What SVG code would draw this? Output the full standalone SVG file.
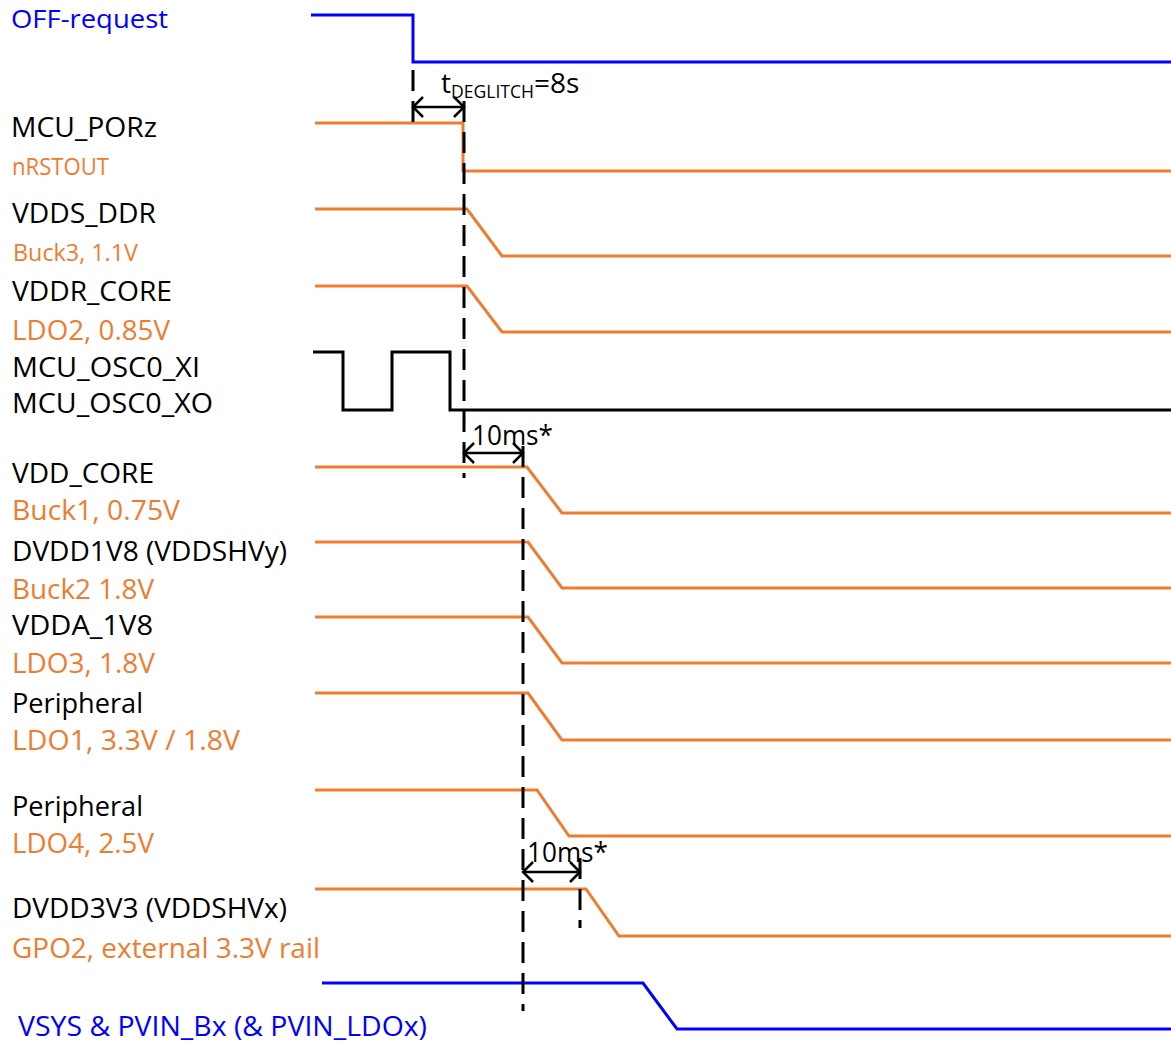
<svg xmlns="http://www.w3.org/2000/svg" width="1171" height="1044" viewBox="0 0 1171 1044">
<style>
text{font-family:"Open Sans","Noto Sans","DejaVu Sans",sans-serif;font-size:28px;fill:#000}
.o{fill:#ED7D31}
.b{fill:#0000FF}
.s{font-size:23px}
.wo{fill:none;stroke:#ED7D31;stroke-width:3;stroke-linejoin:miter}
.wb{fill:none;stroke:#0000FF;stroke-width:3}
.wk{fill:none;stroke:#000;stroke-width:3}
.dash{fill:none;stroke:#000;stroke-width:3;stroke-dasharray:21 10}
.arr{fill:none;stroke:#000;stroke-width:2.5;marker-start:url(#ah);marker-end:url(#ah)}
.t{font-size:28px}
</style>
<defs>
<marker id="ah" viewBox="-12 -12 14 24" refX="0" refY="0" markerWidth="14" markerHeight="24" orient="auto-start-reverse" markerUnits="userSpaceOnUse">
<path d="M-10,-10 L0,0 L-10,10" fill="none" stroke="#000" stroke-width="2.5"/>
</marker>
</defs>
<rect width="1171" height="1044" fill="#fff"/>

<g id="labels">
<text id="lbl-off" class="b" x="11" y="28" font-size="26" textLength="157" lengthAdjust="spacingAndGlyphs" style="font-size:26px">OFF-request</text>
<text id="lbl-porz" x="11" y="137" textLength="146" lengthAdjust="spacingAndGlyphs">MCU_PORz</text>
<text id="lbl-nrst" class="o s" x="12" y="175" textLength="97" lengthAdjust="spacingAndGlyphs">nRSTOUT</text>
<text id="lbl-vdds" x="12" y="223" textLength="144" lengthAdjust="spacingAndGlyphs">VDDS_DDR</text>
<text id="lbl-buck3" class="o s" x="13" y="261" textLength="125" lengthAdjust="spacingAndGlyphs">Buck3, 1.1V</text>
<text id="lbl-vddr" x="12" y="301" textLength="160" lengthAdjust="spacingAndGlyphs">VDDR_CORE</text>
<text id="lbl-ldo2" class="o" x="12" y="340" textLength="158" lengthAdjust="spacingAndGlyphs">LDO2, 0.85V</text>
<text id="lbl-xi" x="12" y="377" textLength="188" lengthAdjust="spacingAndGlyphs">MCU_OSC0_XI</text>
<text id="lbl-xo" x="12" y="413" textLength="201" lengthAdjust="spacingAndGlyphs">MCU_OSC0_XO</text>
<text id="lbl-vddcore" x="12" y="483" textLength="142" lengthAdjust="spacingAndGlyphs">VDD_CORE</text>
<text id="lbl-buck1" class="o" x="12" y="520" textLength="168" lengthAdjust="spacingAndGlyphs">Buck1, 0.75V</text>
<text id="lbl-dvdd1v8" x="12" y="561" textLength="275" lengthAdjust="spacingAndGlyphs">DVDD1V8 (VDDSHVy)</text>
<text id="lbl-buck2" class="o" x="12" y="599" textLength="142" lengthAdjust="spacingAndGlyphs">Buck2 1.8V</text>
<text id="lbl-vdda" x="12" y="635" textLength="141" lengthAdjust="spacingAndGlyphs">VDDA_1V8</text>
<text id="lbl-ldo3" class="o" x="12" y="673" textLength="143" lengthAdjust="spacingAndGlyphs">LDO3, 1.8V</text>
<text id="lbl-per1" x="12" y="713" textLength="131" lengthAdjust="spacingAndGlyphs">Peripheral</text>
<text id="lbl-ldo1" class="o" x="12" y="750" textLength="228" lengthAdjust="spacingAndGlyphs">LDO1, 3.3V / 1.8V</text>
<text id="lbl-per2" x="12" y="816" textLength="131" lengthAdjust="spacingAndGlyphs">Peripheral</text>
<text id="lbl-ldo4" class="o" x="12" y="853" textLength="142" lengthAdjust="spacingAndGlyphs">LDO4, 2.5V</text>
<text id="lbl-dvdd3v3" x="12" y="918" textLength="275" lengthAdjust="spacingAndGlyphs">DVDD3V3 (VDDSHVx)</text>
<text id="lbl-gpo2" class="o" x="12" y="958" textLength="308" lengthAdjust="spacingAndGlyphs">GPO2, external 3.3V rail</text>
<text id="lbl-vsys" class="b" x="18" y="1036" textLength="409" lengthAdjust="spacingAndGlyphs">VSYS &amp; PVIN_Bx (&amp; PVIN_LDOx)</text>
</g>

<g id="waveforms">
<polyline id="w-off" class="wb" points="311,15 413,15 413,62 1171,62"/>
<polyline id="w-porz" class="wo" points="315,123 463,123 463,171 1171,171"/>
<polyline id="w-vdds" class="wo" points="315,209 467,209 502,256 1171,256"/>
<polyline id="w-vddr" class="wo" points="315,286 467,286 502,332 1171,332"/>
<polyline id="w-osc" class="wk" points="313,352 343,352 343,410 392,410 392,352 450,352 450,410 1171,410"/>
<polyline id="w-vddcore" class="wo" points="315,467 527,467 562,513 1171,513"/>
<polyline id="w-dvdd1v8" class="wo" points="315,542 528,542 562,588 1171,588"/>
<polyline id="w-vdda" class="wo" points="315,617 528,617 562,663 1171,663"/>
<polyline id="w-ldo1" class="wo" points="315,693 528,693 562,740 1171,740"/>
<polyline id="w-ldo4" class="wo" points="315,790 537,790 569,836 1171,836"/>
<polyline id="w-dvdd3v3" class="wo" points="315,889 586,889 619,936 1171,936"/>
<polyline id="w-vsys" class="wb" points="322,983 643,983 677,1029 1171,1029"/>
</g>

<g id="connectors">
<line class="dash" x1="413" y1="70" x2="413" y2="123" stroke-dasharray="21 8"/>
<line class="dash" x1="464" y1="101" x2="464" y2="478"/>
<line class="dash" x1="523" y1="446" x2="523" y2="1011"/>
<line class="dash" x1="580" y1="858" x2="580" y2="928" stroke-dasharray="50 12 5 50"/>
<line class="arr" x1="413" y1="107" x2="464" y2="107"/>
<line class="arr" x1="464" y1="453" x2="523" y2="453"/>
<line class="arr" x1="523" y1="872" x2="580" y2="872"/>
</g>

<g id="annotations">
<text id="t-deglitch" class="t" x="441" y="93">t<tspan font-size="18" dy="5" textLength="83" lengthAdjust="spacingAndGlyphs">DEGLITCH</tspan><tspan dy="-5">=8s</tspan></text>
<text id="t-10ms-1" class="t" x="472" y="445" textLength="81" lengthAdjust="spacingAndGlyphs">10ms*</text>
<text id="t-10ms-2" class="t" x="527" y="862" textLength="81" lengthAdjust="spacingAndGlyphs">10ms*</text>
</g>
</svg>
